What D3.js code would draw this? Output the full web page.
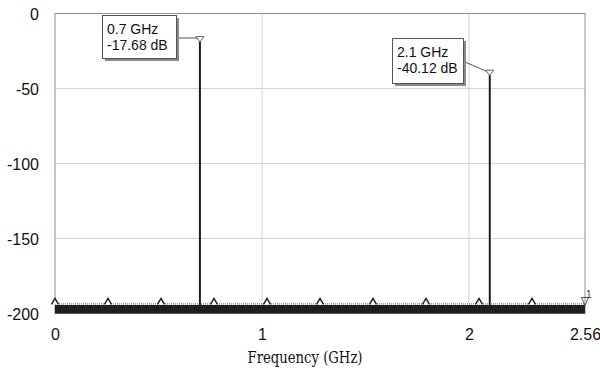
<!DOCTYPE html>
<html><head><meta charset="utf-8">
<script src="https://cdn.jsdelivr.net/npm/d3@7"></script>
<style>body{margin:0;background:#fff}svg{display:block}</style>
</head><body><svg id="c" width="600" height="373"></svg>
<script>
// ---- data ----
const xTicks = [0, 1, 2, 2.56];
const xTickLabels = ["0", "1", "2", "2.56"];
const yTicks = [0, -50, -100, -150, -200];
const yTickLabels = ["0", "-50", "-100", "-150", "-200"];
const spikeFreqs = [0.7, 2.1];
const spikeLevels = [-17.68, -40.12];
const markerLabels1 = ["0.7 GHz", "2.1 GHz"];
const markerLabels2 = ["-17.68 dB", "-40.12 dB"];
const noiseFreqs = [0, 2.56];
const noiseTop = [-194.3, -194.3];
const noiseBottom = [-200, -200];
const traceMarkerFreqs = [0, 0.256, 0.512, 0.768, 1.024, 1.28, 1.536, 1.792, 2.048, 2.304];
const endMarkerFreq = [2.56];
const xTitle = "Frequency (GHz)";

// ---- layout ----
const L = 55, R = 585, T = 13.5, B = 313.5;
const svg = d3.select("#c");
const x = d3.scaleLinear().domain([0, 2.56]).range([L, R]);
const y = d3.scaleLinear().domain([0, -200]).range([T, B]);

// gridlines
svg.append("g").selectAll("line").data([-50, -100, -150]).join("line")
  .attr("x1", L).attr("x2", R).attr("y1", d => y(d)).attr("y2", d => y(d))
  .attr("stroke", "#d4d4d4").attr("stroke-width", 1);
svg.append("g").selectAll("line").data([1, 2]).join("line")
  .attr("y1", T).attr("y2", B).attr("x1", d => x(d)).attr("x2", d => x(d))
  .attr("stroke", "#d4d4d4").attr("stroke-width", 1);

// frame
svg.append("rect").attr("x", L).attr("y", T).attr("width", R - L).attr("height", B - T)
  .attr("fill", "none").attr("stroke", "#909090").attr("stroke-width", 1);

// axes (labels only)
const fontA = "'Liberation Sans', Arial, sans-serif";
const yAxis = svg.append("g").attr("transform", `translate(${L},0)`)
  .call(d3.axisLeft(y).tickValues(yTicks).tickFormat((d, i) => yTickLabels[i]).tickSize(0).tickPadding(16));
yAxis.select(".domain").remove();
yAxis.selectAll("text").attr("font-family", fontA).attr("font-size", 16).attr("fill", "#111").attr("dy", "0.4em");

const xAxis = svg.append("g").attr("transform", `translate(0,${B})`)
  .call(d3.axisBottom(x).tickValues(xTicks).tickFormat((d, i) => xTickLabels[i]).tickSize(0).tickPadding(15));
xAxis.select(".domain").remove();
xAxis.selectAll("text").attr("font-family", fontA).attr("font-size", 16).attr("fill", "#111");

svg.append("text").attr("x", 305).attr("y", 363).attr("text-anchor", "middle")
  .attr("font-family", "'DejaVu Serif', serif").attr("font-size", 17).attr("fill", "#111")
  .attr("textLength", 115).attr("lengthAdjust", "spacingAndGlyphs")
  .text(xTitle);

// noise floor band
const noise = noiseFreqs.map((f, i) => ({f, t: noiseTop[i], b: noiseBottom[i]}));
svg.append("path").datum(noise)
  .attr("d", d3.area().x(d => x(d.f)).y0(d => y(d.b)).y1(d => y(d.t)))
  .attr("fill", "#1e1e1e");
svg.append("line").attr("x1", x(0)).attr("x2", x(2.56))
  .attr("y1", y(noiseTop[0]) - 1).attr("y2", y(noiseTop[0]) - 1)
  .attr("stroke", "#555").attr("stroke-dasharray", "1,1").attr("stroke-width", 1);

// spikes
svg.append("g").selectAll("line").data(spikeFreqs).join("line")
  .attr("x1", d => x(d)).attr("x2", d => x(d))
  .attr("y1", (d, i) => y(spikeLevels[i])).attr("y2", y(noiseTop[0]))
  .attr("stroke", "#1e1e1e").attr("stroke-width", 2);

// trace markers (open up-triangles)
const baseY = y(noiseTop[0]) - 0.5;
svg.append("g").selectAll("path").data(traceMarkerFreqs).join("path")
  .attr("d", d => { const cx = x(d); return `M${cx - 3.5},${baseY}L${cx},${baseY - 6}L${cx + 3.5},${baseY}`; })
  .attr("fill", "#fff").attr("stroke", "#1e1e1e").attr("stroke-width", 1.5);

// end marker
endMarkerFreq.forEach(f => {
  const cx = x(f);
  svg.append("path").attr("d", `M${cx - 3.5},${baseY - 7}L${cx + 3.5},${baseY - 7}L${cx},${baseY + 1}Z`)
    .attr("fill", "none").attr("stroke", "#555").attr("stroke-width", 1);
  svg.append("text").attr("x", cx + 1).attr("y", baseY - 6).attr("font-family", fontA)
    .attr("font-size", 10).attr("fill", "#333").text("1");
});

// marker labels
const boxes = [
  {bx: 102, by: 15, bw: 74, bh: 43},
  {bx: 392, by: 38, bw: 71, bh: 45}
];
spikeFreqs.forEach((f, i) => {
  const px = x(f), py = y(spikeLevels[i]);
  const b = boxes[i];
  if (i === 0) {
    svg.append("polyline").attr("points", `${b.bx + b.bw},${b.by + 23} ${px - 4},${b.by + 23} ${px},${py}`)
      .attr("fill", "none").attr("stroke", "#555").attr("stroke-width", 1);
  } else {
    svg.append("line").attr("x1", b.bx + b.bw + 2).attr("y1", b.by + 24).attr("x2", px).attr("y2", py - 1)
      .attr("stroke", "#555").attr("stroke-width", 1);
  }
  svg.append("path").attr("d", `M${px - 4},${py - 3.5}L${px + 4},${py - 3.5}L${px},${py + 2}Z`)
    .attr("fill", "#fff").attr("stroke", "#666").attr("stroke-width", 1);
  svg.append("rect").attr("x", b.bx + 3).attr("y", b.by + 3).attr("width", b.bw).attr("height", b.bh)
    .attr("fill", "#8a8a8a");
  svg.append("rect").attr("x", b.bx + 0.5).attr("y", b.by + 0.5).attr("width", b.bw).attr("height", b.bh)
    .attr("fill", "#fff").attr("stroke", "#555").attr("stroke-width", 1);
  svg.append("text").attr("x", b.bx + 5).attr("y", b.by + 19).attr("font-family", fontA)
    .attr("font-size", 14).attr("fill", "#111").text(markerLabels1[i]);
  svg.append("text").attr("x", b.bx + 5).attr("y", b.by + 35).attr("font-family", fontA)
    .attr("font-size", 14).attr("fill", "#111").text(markerLabels2[i]);
});
</script></body></html>
